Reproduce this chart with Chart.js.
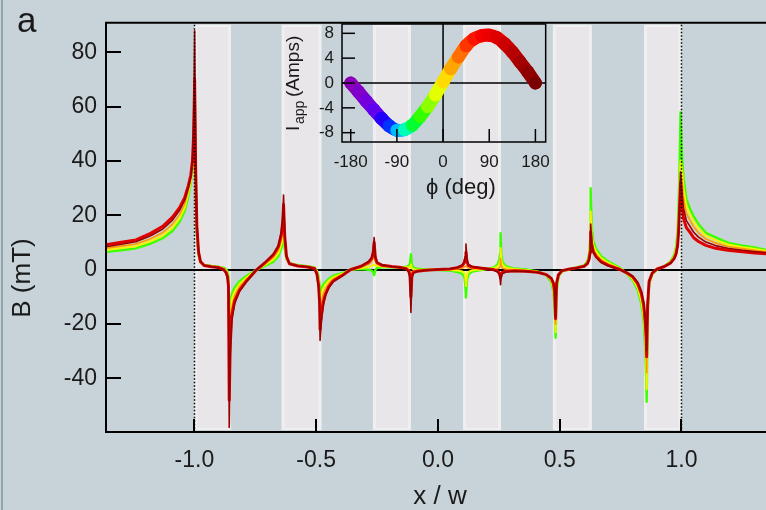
<!DOCTYPE html>
<html lang="en">
<head>
<meta charset="UTF-8">
<title>B(x) across the strip array</title>
<script src="https://cdn.jsdelivr.net/npm/chart.js"></script>
<style>
  body { margin: 0; background: #c8d3d9; }
  .wrap { position: relative; width: 766px; height: 510px; overflow: hidden; background: #c8d3d9; }
  .edge { position: absolute; left: 1px; top: 0; width: 2px; height: 510px; background: #8fa6a8; }
  #mainChart { position: absolute; left: 0; top: 0; }
  #insetChart { position: absolute; left: 270px; top: 0; }
</style>
</head>
<body>
<div class="wrap">
  <div class="edge"></div>
  <canvas id="mainChart" width="766" height="510"></canvas>
  <canvas id="insetChart" width="290" height="205"></canvas>
</div>
<script>
const FONT = '"Liberation Sans", Arial, Helvetica, sans-serif';

// ---- main plot: positions x/w and field B (mT), one array per curve ----
const xPos = [
  -1.363, -1.3, -1.24, -1.18, -1.13, -1.09, -1.06, -1.04, -1.025, -1.015, -1.008, -1.003, -0.999,
  -0.995, -0.99, -0.983, -0.975, -0.96, -0.93, -0.9, -0.88, -0.87, -0.864, -0.86, -0.857,
  -0.853, -0.847, -0.835, -0.815, -0.785, -0.745, -0.71, -0.675, -0.655, -0.643, -0.637, -0.634,
  -0.629, -0.622, -0.61, -0.575, -0.535, -0.507, -0.497, -0.49, -0.486, -0.484,
  -0.479, -0.471, -0.462, -0.448, -0.43, -0.39, -0.36, -0.315, -0.285, -0.272, -0.266, -0.262,
  -0.257, -0.25, -0.23, -0.19, -0.15, -0.13, -0.12, -0.115, -0.111,
  -0.107, -0.1, -0.085, -0.05, 0, 0.05, 0.08, 0.1, 0.108, 0.112, 0.115,
  0.119, 0.125, 0.14, 0.17, 0.2, 0.23, 0.245, 0.252, 0.255, 0.257, 0.26, 0.265, 0.28,
  0.31, 0.36, 0.41, 0.445, 0.465, 0.474, 0.479, 0.483,
  0.487, 0.495, 0.51, 0.54, 0.57, 0.6, 0.614, 0.621, 0.625, 0.627,
  0.631, 0.638, 0.65, 0.67, 0.7, 0.747, 0.775, 0.8, 0.82, 0.835, 0.845, 0.851, 0.855, 0.857,
  0.861, 0.867, 0.88, 0.9, 0.93, 0.955, 0.97, 0.978, 0.984, 0.988, 0.992, 0.996,
  1.002, 1.008, 1.02, 1.035, 1.05, 1.07, 1.1, 1.14, 1.19, 1.25, 1.3, 1.347
];

const bDarkRed = [
  8.5, 9.4, 10.3, 12.5, 15.0, 18.3, 22.0, 25.6, 30.2, 34.2, 40, 56, 88,
  45, 18, 7, 3.2, 1.6, 1.1, 0.7, 0, -1.2, -3, -7, -58,
  -32, -19, -12.5, -8, -4.2, 0, 2.7, 5.8, 9, 14, 20, 27.5,
  13, 5, 2.2, 1.4, 1.0, 0.4, -1.8, -6.6, -14, -26,
  -19, -13, -9.5, -6.6, -4.3, -2, 0, 1.4, 3, 4.5, 7, 11.9,
  5, 2.8, 1.8, 1.2, 0.8, 0.3, -0.8, -3, -15.7,
  -3, -1.2, -0.6, -0.2, 0.1, 0.4, 0.9, 1.8, 3, 5, 9.5,
  4, 2, 1.2, 0.8, 0.4, -0.2, -0.8, -1.8, -3, -5.5, -2.5, -1.4, -0.8,
  -0.5, -0.6, -1.0, -1.8, -3, -4.5, -7, -17.5,
  -5, -1.8, -0.3, 0.3, 0.7, 1.2, 2.2, 3.6, 6, 16.7,
  10, 6.5, 4.5, 2.7, 1.4, 0, -1.0, -2.4, -4.6, -7.8, -12, -17.5, -23, -29.7,
  -12, -4.1, -1.1, 0.3, 1.2, 2.4, 4.0, 5.6, 8.5, 13, 22, 36,
  28.5, 22.8, 18.1, 16, 13.8, 12, 10.2, 8.9, 7.9, 7.2, 6.7, 6.3
];

const bRed = [
  9.2, 10.1, 11.0, 13.4, 16.0, 19.4, 23.0, 26.5, 31, 34.8, 40, 50, 70,
  38, 16, 6.5, 3, 1.6, 1.1, 0.8, 0.1, -1, -2.6, -6, -48,
  -28, -17, -11.5, -7.5, -4, 0, 2.6, 5.6, 8.6, 13, 18, 24,
  12, 5, 2.2, 1.4, 1.0, 0.5, -1.5, -5.8, -12, -22,
  -17, -12, -9, -6.2, -4.1, -1.9, 0, 1.3, 2.8, 4.2, 6.2, 10,
  4.4, 2.6, 1.7, 1.2, 0.8, 0.4, -0.5, -2, -10,
  -2, -0.9, -0.5, -0.2, 0.1, 0.3, 0.8, 1.5, 2.5, 4, 6.5,
  3, 1.6, 1, 0.7, 0.4, 0, -0.5, -1.2, -2, -3, -1.5, -0.9, -0.5,
  -0.4, -0.5, -0.9, -1.8, -3.2, -5, -8, -18,
  -5, -1.8, -0.3, 0.3, 0.7, 1.3, 2.4, 4.0, 6.6, 14,
  9.5, 6.6, 4.8, 3.0, 1.6, 0.1, -1.1, -2.6, -5, -8.5, -13, -19, -25, -32,
  -13, -4.3, -1.2, 0.3, 1.2, 2.5, 4.2, 6, 9, 14, 23, 32,
  24, 19, 15.5, 13.8, 11.8, 10.4, 9.0, 7.9, 7.2, 6.6, 6.2, 5.9
];

const bOrange = [
  7.9, 8.7, 9.5, 11.4, 13.7, 16.8, 20.4, 24.2, 29.2, 33.3, 38, 44, 58,
  33, 15, 6, 3, 1.6, 1.2, 0.9, 0.3, -0.6, -1.8, -4.5, -36,
  -22, -14, -9.5, -6.2, -3.3, 0, 2.2, 4.6, 7.2, 11, 14.5, 18,
  10, 4.6, 2.2, 1.5, 1.1, 0.6, -1.0, -4.4, -9, -15,
  -12, -9, -7, -5, -3.3, -1.6, 0, 1.0, 2.0, 3.0, 4.2, 6,
  3, 2, 1.4, 1.1, 0.8, 0.6, 0.1, -0.6, -4,
  -0.8, -0.4, -0.2, -0.1, 0, 0.1, 0.3, 0.6, 1, 1.3, 1.5,
  1, 0.6, 0.5, 0.4, 0.3, 0.3, 0.4, 0.7, 1.2, 4, 1.5, 0.6, 0.2,
  0, -0.3, -0.8, -1.8, -3.5, -6, -10, -20,
  -6, -2, -0.4, 0.3, 0.8, 1.4, 2.6, 4.5, 7.6, 17,
  11, 7.6, 5.6, 3.6, 2.0, 0.3, -1.2, -3.0, -5.8, -9.8, -15, -22, -30, -38,
  -14, -4.6, -1.3, 0.2, 1.3, 2.7, 4.6, 6.8, 10.5, 16.5, 27, 36,
  33, 26.5, 20.8, 18.2, 15.8, 13.6, 11.3, 9.9, 8.6, 7.8, 7.2, 6.6
];

const bYellow = [
  7.3, 8.0, 8.7, 10.5, 12.6, 15.5, 19.0, 22.8, 28.2, 32.4, 37, 42, 50,
  30, 14, 6, 3, 1.7, 1.3, 1.0, 0.5, -0.2, -1.2, -3.5, -29,
  -18, -11, -8, -5.2, -2.8, 0, 1.8, 3.8, 6, 9.5, 12, 14,
  8.5, 4.2, 2.3, 1.6, 1.2, 0.8, -0.6, -3.4, -7, -11,
  -9, -7, -5.5, -4, -2.7, -1.3, 0, 0.6, 1.0, 1.4, 1.8, 2,
  1.5, 1.4, 1.2, 1.0, 0.8, 0.9, 0.9, 1.0, 2,
  0.5, 0.2, 0.1, 0, 0, -0.1, -0.3, -0.6, -1, -2.5, -6,
  -2, -0.8, -0.2, 0, 0.3, 0.6, 1.2, 2.2, 3.5, 8, 3.5, 1.8, 0.8,
  0.3, -0.1, -0.7, -1.9, -4, -7, -12, -23,
  -7, -2.2, -0.5, 0.2, 0.8, 1.5, 2.9, 5.2, 9, 21.5,
  13, 9, 6.6, 4.3, 2.5, 0.5, -1.3, -3.4, -6.6, -11.2, -17, -25, -35, -44,
  -15, -5, -1.4, 0.2, 1.3, 2.9, 5.0, 7.6, 12, 19, 31, 40,
  37.5, 30.3, 23.4, 20.3, 17.7, 15.2, 12.5, 10.9, 9.3, 8.3, 7.7, 7.0
];

const bGreen = [
  6.6, 7.2, 7.9, 9.6, 11.6, 14.3, 17.8, 21.6, 27, 31.8, 36.5, 40, 46,
  28, 13, 5.5, 2.8, 1.8, 1.4, 1.1, 0.7, 0.2, -0.6, -2.5, -22,
  -14, -9, -6.5, -4.2, -2.2, 0, 1.4, 3.0, 5, 8, 10.5, 12,
  7.5, 4, 2.4, 1.7, 1.3, 0.9, -0.3, -2.6, -5.5, -9,
  -7, -5.5, -4.5, -3.3, -2.2, -1.1, 0, 0.3, 0, -0.3, -0.8, -2,
  0, 0.7, 0.9, 0.9, 0.8, 1.1, 1.5, 2.3, 5.7,
  1.8, 0.8, 0.4, 0.1, -0.1, -0.3, -0.8, -1.5, -2.5, -5, -10.2,
  -4, -1.8, -0.7, -0.2, 0.3, 0.9, 2, 3.8, 6, 13.5, 5.5, 2.8, 1.2,
  0.5, 0.1, -0.6, -2.0, -4.5, -8, -14, -25,
  -8, -2.5, -0.6, 0.2, 0.9, 1.6, 3.2, 6, 11, 30,
  16, 10.5, 7.6, 5, 3, 0.7, -1.4, -3.8, -7.4, -12.5, -19, -29, -40, -48.6,
  -16, -5.4, -1.5, 0.1, 1.4, 3.1, 5.5, 8.5, 14, 23, 38, 58,
  42, 34, 26, 22.5, 19.7, 16.8, 13.6, 11.9, 10, 8.9, 8.2, 7.3
];

// superconducting strips (x/w from, to) and the outer edges marked dotted
const stripEdges = [[-1.0, -0.85], [-0.642, -0.478], [-0.267, -0.111], [0.103, 0.259], [0.472, 0.632], [0.846, 1.0]];
const edgeLines = [-1, 1];
const xTicks = [-1, -0.5, 0, 0.5, 1];
const yTicks = [-40, -20, 0, 20, 40, 60, 80];

// ---- inset: applied current vs phase ----
const phiDeg = [-180, -165, -150, -135, -120, -105, -90, -75, -60, -45, -30, -15, 0, 15, 30, 45, 60, 75, 90, 105, 120, 135, 150, 165, 180];
const iApp = [0, -1.4, -2.9, -4.3, -5.7, -6.9, -7.6, -7.5, -6.8, -5.4, -3.8, -1.9, 0.2, 2.3, 4.2, 6.0, 7.1, 7.6, 7.7, 7.3, 6.3, 5.0, 3.4, 1.8, 0];
const phiTicks = [-180, -90, 0, 90, 180];
const iTicks = [-8, -4, 0, 4, 8];

// rainbow used for the phase colouring: [phi, hue, lightness]
const colorStops = [[-180, 285, 36], [-130, 262, 48], [-105, 228, 50], [-88, 192, 50], [-65, 140, 50],
  [-40, 100, 50], [-10, 60, 50], [20, 35, 50], [50, 8, 50], [75, 0, 48], [110, 0, 43], [180, 0, 24]];

function phiColor(p) {
  for (let i = 1; i < colorStops.length; i++) {
    const a = colorStops[i - 1], b = colorStops[i];
    if (p <= b[0]) {
      const t = (p - a[0]) / (b[0] - a[0]);
      return `hsl(${a[1] + (b[1] - a[1]) * t}, 100%, ${a[2] + (b[2] - a[2]) * t}%)`;
    }
  }
  return 'hsl(0, 100%, 24%)';
}

function curve(values, color, width) {
  return {
    data: xPos.map((x, i) => ({ x: x, y: values[i] })),
    showLine: true,
    borderColor: color,
    borderWidth: width,
    borderJoinStyle: 'round',
    pointRadius: 0,
    tension: 0
  };
}

// strips, zero line, frame, inward ticks and labels
const mainDecor = {
  id: 'mainDecor',
  beforeDatasetsDraw(chart) {
    const { ctx, chartArea: a, scales: { x, y } } = chart;
    ctx.save();
    stripEdges.forEach(([l, r]) => {
      const x0 = x.getPixelForValue(l), x1 = x.getPixelForValue(r);
      ctx.fillStyle = '#f0eff0';
      ctx.fillRect(x0, a.top + 2, x1 - x0, a.bottom - a.top - 4);
      ctx.fillStyle = '#e8e6e8';
      ctx.fillRect(x0 + 3, a.top + 4, x1 - x0 - 6, a.bottom - a.top - 8);
    });
    const y0 = Math.round(y.getPixelForValue(0));
    ctx.strokeStyle = '#000';
    ctx.lineWidth = 2;
    ctx.beginPath();
    ctx.moveTo(a.left, y0);
    ctx.lineTo(a.right, y0);
    ctx.stroke();
    ctx.restore();
  },
  afterDatasetsDraw(chart) {
    const { ctx, chartArea: a, scales: { x, y } } = chart;
    ctx.save();
    ctx.strokeStyle = '#000';
    // dotted lines at the outer edges
    ctx.lineWidth = 1.5;
    ctx.setLineDash([1.5, 2]);
    edgeLines.forEach(v => {
      const px = Math.round(x.getPixelForValue(v)) + 0.5;
      ctx.beginPath();
      ctx.moveTo(px, a.top + 2);
      ctx.lineTo(px, a.bottom);
      ctx.stroke();
    });
    ctx.setLineDash([]);
    // frame
    ctx.lineWidth = 2;
    ctx.beginPath();
    ctx.moveTo(a.right + 2, a.top);
    ctx.lineTo(a.left, a.top);
    ctx.lineTo(a.left, a.bottom);
    ctx.lineTo(a.right + 2, a.bottom);
    ctx.stroke();
    // ticks pointing inwards
    yTicks.forEach(v => {
      const py = Math.round(y.getPixelForValue(v));
      ctx.beginPath();
      ctx.moveTo(a.left, py);
      ctx.lineTo(a.left + 15, py);
      ctx.stroke();
    });
    xTicks.forEach(v => {
      const px = Math.round(x.getPixelForValue(v));
      ctx.beginPath();
      ctx.moveTo(px, a.bottom);
      ctx.lineTo(px, a.bottom - 13);
      ctx.stroke();
    });
    ctx.restore();
  },
  afterDraw(chart) {
    const { ctx } = chart;
    ctx.save();
    ctx.fillStyle = '#1a1a1a';
    ctx.font = '35px ' + FONT;
    ctx.textAlign = 'left';
    ctx.textBaseline = 'alphabetic';
    ctx.fillText('a', 17, 32);
    ctx.font = '26px ' + FONT;
    ctx.textAlign = 'center';
    ctx.textBaseline = 'middle';
    ctx.fillText('x / w', 440, 497);
    ctx.translate(23, 278);
    ctx.rotate(-Math.PI / 2);
    ctx.fillText('B (mT)', 0, 0);
    ctx.restore();
  }
};

new Chart(document.getElementById('mainChart'), {
  type: 'scatter',
  data: {
    datasets: [
      curve(bDarkRed, '#9b0000', 1.6),
      curve(bRed, '#e10000', 3),
      curve(bOrange, '#ff9a00', 1.6),
      curve(bYellow, '#f5f500', 2),
      curve(bGreen, '#3cff00', 2.4)
    ]
  },
  options: {
    responsive: false,
    animation: false,
    layout: { padding: { top: 20, right: 0, left: 0, bottom: 0 } },
    plugins: { legend: { display: false }, tooltip: { enabled: false } },
    scales: {
      x: {
        type: 'linear',
        min: -1.363,
        max: 1.347,
        afterFit: s => { s.height = 78; },
        afterBuildTicks: s => { s.ticks = xTicks.map(v => ({ value: v })); },
        grid: { display: false, drawTicks: false },
        border: { display: false },
        ticks: { padding: 15, color: '#1a1a1a', font: { family: FONT, size: 23 }, callback: v => v.toFixed(1) }
      },
      y: {
        type: 'linear',
        min: -59.7,
        max: 90.9,
        afterFit: s => { s.width = 106; },
        afterBuildTicks: s => { s.ticks = yTicks.map(v => ({ value: v })); },
        grid: { display: false, drawTicks: false },
        border: { display: false },
        ticks: { padding: 9, color: '#1a1a1a', font: { family: FONT, size: 23 }, callback: v => String(v) }
      }
    }
  },
  plugins: [mainDecor]
});

// inset decorations
const insetDecor = {
  id: 'insetDecor',
  beforeDatasetsDraw(chart) {
    const { ctx, chartArea: a, scales: { x, y } } = chart;
    ctx.save();
    ctx.strokeStyle = '#000';
    ctx.lineWidth = 1.5;
    const y0 = y.getPixelForValue(0), x0 = x.getPixelForValue(0);
    ctx.beginPath();
    ctx.moveTo(a.left, y0);
    ctx.lineTo(a.right, y0);
    ctx.moveTo(x0, a.top);
    ctx.lineTo(x0, a.bottom);
    ctx.stroke();
    ctx.restore();
  },
  afterDatasetsDraw(chart) {
    const { ctx, chartArea: a, scales: { x, y } } = chart;
    ctx.save();
    ctx.strokeStyle = '#000';
    ctx.lineWidth = 1.5;
    ctx.strokeRect(a.left, a.top, a.right - a.left, a.bottom - a.top);
    iTicks.forEach(v => {
      const py = y.getPixelForValue(v);
      ctx.beginPath();
      ctx.moveTo(a.left, py);
      ctx.lineTo(a.left + 13, py);
      ctx.stroke();
    });
    phiTicks.forEach(v => {
      const px = x.getPixelForValue(v);
      ctx.beginPath();
      ctx.moveTo(px, a.bottom);
      ctx.lineTo(px, a.bottom - 13);
      ctx.stroke();
    });
    ctx.restore();
  },
  afterDraw(chart) {
    const { ctx } = chart;
    ctx.save();
    ctx.fillStyle = '#1a1a1a';
    ctx.font = '22px ' + FONT;
    ctx.textAlign = 'center';
    ctx.textBaseline = 'middle';
    ctx.fillText('\u03d5 (deg)', 191, 188);
    // I_app (Amps), written bottom to top
    ctx.translate(29, 131);
    ctx.rotate(-Math.PI / 2);
    ctx.textAlign = 'left';
    ctx.textBaseline = 'alphabetic';
    ctx.font = '19px ' + FONT;
    ctx.fillText('I', 0, 0);
    ctx.font = '14px ' + FONT;
    ctx.fillText('app', 7, 5);
    ctx.font = '19px ' + FONT;
    ctx.fillText('(Amps)', 34, 0);
    ctx.restore();
  }
};

new Chart(document.getElementById('insetChart'), {
  type: 'scatter',
  data: {
    datasets: [{
      data: phiDeg.map((p, i) => ({ x: p, y: iApp[i] })),
      showLine: true,
      borderWidth: 13,
      borderCapStyle: 'round',
      borderJoinStyle: 'round',
      segment: { borderColor: c => phiColor(c.p0.parsed.x) },
      pointRadius: 6.5,
      pointBorderWidth: 0,
      pointBackgroundColor: phiDeg.map(phiColor),
      tension: 0.3
    }]
  },
  options: {
    responsive: false,
    animation: false,
    layout: { padding: { top: 24, right: 8, left: 0, bottom: 0 } },
    plugins: { legend: { display: false }, tooltip: { enabled: false } },
    scales: {
      x: {
        type: 'linear',
        min: -197,
        max: 200,
        afterFit: s => { s.height = 63; },
        afterBuildTicks: s => { s.ticks = phiTicks.map(v => ({ value: v })); },
        grid: { display: false, drawTicks: false },
        border: { display: false },
        ticks: { padding: 10, color: '#1a1a1a', font: { family: FONT, size: 17 }, callback: v => String(v) }
      },
      y: {
        type: 'linear',
        min: -9.5,
        max: 9.5,
        afterFit: s => { s.width = 72; },
        afterBuildTicks: s => { s.ticks = iTicks.map(v => ({ value: v })); },
        grid: { display: false, drawTicks: false },
        border: { display: false },
        ticks: { padding: 8, color: '#1a1a1a', font: { family: FONT, size: 17 }, callback: v => String(v) }
      }
    }
  },
  plugins: [insetDecor]
});
</script>
</body>
</html>
